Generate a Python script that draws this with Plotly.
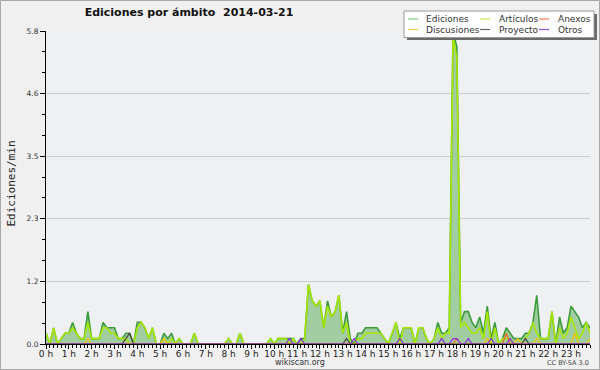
import pandas as pd
import plotly.graph_objects as go

# ---------------- data (edits per minute, 10-minute slots) ----------------
slot_times = pd.date_range("2014-03-21 00:00", periods=144, freq="10min")

ediciones = [
    0.2, 0.0, 0.3, 0.0, 0.1, 0.2,   # 0 h
    0.2, 0.4, 0.2, 0.1, 0.1, 0.6,   # 1 h
    0.1, 0.1, 0.1, 0.4, 0.3, 0.3,   # 2 h
    0.3, 0.1, 0.1, 0.2, 0.2, 0.0,   # 3 h
    0.4, 0.4, 0.3, 0.1, 0.3, 0.0,   # 4 h
    0.0, 0.2, 0.1, 0.2, 0.0, 0.1,   # 5 h
    0.0, 0.0, 0.0, 0.2, 0.0, 0.0,   # 6 h
    0.0, 0.0, 0.0, 0.0, 0.0, 0.0,   # 7 h
    0.1, 0.0, 0.0, 0.2, 0.0, 0.0,   # 8 h
    0.0, 0.0, 0.0, 0.0, 0.0, 0.1,   # 9 h
    0.0, 0.1, 0.1, 0.1, 0.1, 0.1,   # 10 h
    0.0, 0.1, 0.1, 1.1, 0.8, 0.7,   # 11 h
    0.8, 0.3, 0.8, 0.5, 0.6, 0.9,   # 12 h
    0.2, 0.6, 0.1, 0.0, 0.2, 0.2,   # 13 h
    0.3, 0.3, 0.3, 0.3, 0.2, 0.1,   # 14 h
    0.0, 0.2, 0.4, 0.1, 0.3, 0.3,   # 15 h
    0.3, 0.0, 0.3, 0.3, 0.1, 0.0,   # 16 h
    0.1, 0.4, 0.2, 0.2, 0.3, 5.8,   # 17 h
    5.5, 0.4, 0.6, 0.6, 0.4, 0.3,   # 18 h
    0.5, 0.2, 0.7, 0.1, 0.4, 0.0,   # 19 h
    0.1, 0.3, 0.2, 0.1, 0.1, 0.1,   # 20 h
    0.2, 0.2, 0.4, 0.9, 0.1, 0.1,   # 21 h
    0.1, 0.6, 0.0, 0.5, 0.2, 0.3,   # 22 h
    0.7, 0.6, 0.5, 0.3, 0.4, 0.3,   # 23 h
]

articulos = [
    0.2, 0.0, 0.3, 0.0, 0.1, 0.2,
    0.2, 0.3, 0.2, 0.1, 0.1, 0.4,
    0.1, 0.1, 0.1, 0.3, 0.3, 0.2,
    0.2, 0.1, 0.1, 0.1, 0.0, 0.0,
    0.3, 0.4, 0.3, 0.1, 0.3, 0.0,
    0.0, 0.1, 0.0, 0.1, 0.0, 0.1,
    0.0, 0.0, 0.0, 0.2, 0.0, 0.0,
    0.0, 0.0, 0.0, 0.0, 0.0, 0.0,
    0.1, 0.0, 0.0, 0.2, 0.0, 0.0,
    0.0, 0.0, 0.0, 0.0, 0.0, 0.1,
    0.0, 0.1, 0.1, 0.1, 0.0, 0.1,
    0.0, 0.0, 0.1, 1.1, 0.8, 0.7,
    0.8, 0.3, 0.7, 0.5, 0.6, 0.9,
    0.2, 0.4, 0.0, 0.0, 0.1, 0.1,
    0.2, 0.2, 0.2, 0.2, 0.2, 0.1,
    0.0, 0.2, 0.4, 0.0, 0.3, 0.3,
    0.3, 0.0, 0.3, 0.3, 0.1, 0.0,
    0.1, 0.3, 0.1, 0.2, 0.2, 5.7,
    5.3, 0.3, 0.4, 0.3, 0.2, 0.2,
    0.3, 0.1, 0.6, 0.0, 0.3, 0.0,
    0.1, 0.1, 0.1, 0.0, 0.0, 0.0,
    0.1, 0.2, 0.4, 0.2, 0.1, 0.1,
    0.1, 0.6, 0.0, 0.3, 0.1, 0.2,
    0.5, 0.3, 0.1, 0.2, 0.4, 0.2,
]

discusiones = [
    0, 0, 0, 0, 0, 0,
    0, 0, 0, 0, 0, 0.1,
    0, 0, 0, 0, 0, 0,
    0, 0, 0, 0, 0, 0,
    0, 0, 0, 0, 0, 0,
    0, 0.1, 0, 0, 0, 0,
    0, 0, 0, 0, 0, 0,
    0, 0, 0, 0, 0, 0,
    0, 0, 0, 0, 0, 0,
    0, 0, 0, 0, 0, 0,
    0, 0, 0, 0, 0, 0,
    0, 0, 0, 0, 0, 0,
    0, 0, 0, 0, 0, 0,
    0, 0, 0, 0, 0, 0,
    0, 0, 0, 0, 0, 0,
    0, 0, 0, 0, 0, 0,
    0, 0, 0, 0, 0, 0,
    0, 0, 0, 0, 0, 0,
    0, 0, 0, 0, 0, 0,
    0, 0, 0.1, 0, 0, 0,
    0, 0, 0, 0, 0.1, 0,
    0, 0, 0, 0.1, 0, 0,
    0, 0, 0, 0, 0, 0,
    0, 0.2, 0, 0, 0, 0.1,
]

anexos = [0] * 108 + [0.1] + [0] * 12 + [0.2] + [0] * 22

proyecto = [
    0, 0, 0, 0, 0, 0,
    0, 0, 0, 0, 0, 0,
    0, 0, 0, 0, 0, 0,
    0, 0, 0, 0.1, 0.2, 0,
    0, 0, 0, 0, 0, 0,
    0, 0, 0, 0, 0, 0,
    0, 0, 0, 0, 0, 0,
    0, 0, 0, 0, 0, 0,
    0, 0, 0, 0, 0, 0,
    0, 0, 0, 0, 0, 0,
    0, 0, 0, 0, 0, 0,
    0, 0, 0, 0, 0, 0,
    0, 0, 0, 0, 0, 0,
    0, 0.1, 0, 0, 0, 0,
    0, 0, 0, 0, 0, 0,
    0, 0, 0, 0, 0, 0,
    0, 0, 0, 0, 0, 0,
    0, 0, 0, 0, 0, 0,
    0, 0, 0, 0, 0, 0,
    0, 0, 0, 0, 0, 0,
    0, 0, 0, 0, 0, 0,
    0.1, 0, 0, 0, 0, 0,
    0, 0, 0, 0, 0, 0,
    0, 0, 0, 0, 0, 0,
]

otros = [
    0, 0, 0, 0, 0, 0,
    0, 0, 0, 0, 0, 0,
    0, 0, 0, 0, 0, 0,
    0, 0, 0, 0, 0, 0,
    0, 0, 0, 0, 0, 0,
    0, 0, 0, 0, 0, 0,
    0, 0, 0, 0, 0, 0,
    0, 0, 0, 0, 0, 0,
    0, 0, 0, 0, 0, 0,
    0, 0, 0, 0, 0, 0,
    0, 0, 0, 0, 0.1, 0,
    0, 0.1, 0, 0, 0, 0,
    0, 0, 0, 0, 0, 0,
    0, 0, 0, 0.1, 0, 0,
    0, 0, 0, 0, 0, 0,
    0, 0, 0, 0.1, 0, 0,
    0, 0, 0, 0, 0, 0,
    0, 0, 0.1, 0, 0, 0.1,
    0.1, 0, 0, 0.1, 0, 0,
    0, 0, 0, 0.1, 0, 0,
    0, 0, 0.1, 0, 0, 0,
    0, 0, 0, 0, 0, 0,
    0, 0, 0, 0, 0, 0,
    0, 0, 0, 0, 0, 0,
]

hour_labels = ["0 h", "1 h", "2 h", "3 h", "4 h", "5 h", "6 h", "7 h",
               "8 h", "9 h", "10 h", "11 h", "12 h", "13 h", "14 h", "15 h",
               "16 h", "17 h", "18 h", "19 h", "20 h", "21 h", "22 h", "23 h"]
y_tick_values = [0, 1.16, 2.32, 3.48, 4.64, 5.8]
y_tick_labels = ["0.0", "1.2", "2.3", "3.5", "4.6", "5.8"]

series_colors = {
    "Ediciones": "#3c9c3c",
    "Artículos": "#a8e800",
    "Anexos": "#f06a28",
    "Discusiones": "#f5c400",
    "Proyecto": "#444444",
    "Otros": "#8a2be2",
}
legend_colors = {
    "Ediciones": "#7fcf7f",
    "Artículos": "#c8ec50",
    "Anexos": "#f08050",
    "Discusiones": "#f5d050",
    "Proyecto": "#666666",
    "Otros": "#9a50ee",
}

# ---------------- figure ----------------
W, H = 600, 370
ML, MR, MT, MB = 46, 10, 31, 26
PW, PH = W - ML - MR, H - MT - MB
FONT = "DejaVu Sans"


def px_x(px):
    return (px - ML) / PW


def px_y(py):
    return (H - MB - py) / PH


fig = go.Figure()

fig.add_trace(go.Scatter(
    x=slot_times, y=ediciones, name="Ediciones", mode="lines",
    line=dict(color=series_colors["Ediciones"], width=1.6),
    fill="tozeroy", fillcolor="#a2cca2", showlegend=False,
))
fig.add_trace(go.Scatter(
    x=slot_times, y=articulos, name="Artículos", mode="lines",
    line=dict(color=series_colors["Artículos"], width=1.6), showlegend=False,
))
for name, vals in [("Discusiones", discusiones), ("Anexos", anexos),
                   ("Proyecto", proyecto), ("Otros", otros)]:
    fig.add_trace(go.Scatter(
        x=slot_times, y=vals, name=name, mode="lines",
        line=dict(color=series_colors[name], width=1.2), showlegend=False,
    ))

shapes = []
annotations = []

# outer border of the image
shapes.append(dict(type="rect", xref="paper", yref="paper",
                   x0=px_x(0.5), x1=px_x(W - 0.5), y0=px_y(H - 0.5), y1=px_y(0.5),
                   line=dict(color="#a8a8a8", width=1), fillcolor="rgba(0,0,0,0)",
                   layer="below"))

# legend box with shadow
shapes.append(dict(type="rect", xref="paper", yref="paper",
                   x0=px_x(407), x1=px_x(597), y0=px_y(40), y1=px_y(14),
                   line=dict(width=0), fillcolor="#6a6a6a", layer="above"))
shapes.append(dict(type="rect", xref="paper", yref="paper",
                   x0=px_x(404), x1=px_x(594), y0=px_y(37.5), y1=px_y(11),
                   line=dict(color="#9a9a9a", width=1), fillcolor="#ffffff", layer="above"))

legend_layout = [
    ("Ediciones", 408, 424, 19), ("Discusiones", 408, 424, 29.5),
    ("Artículos", 480, 497, 19), ("Proyecto", 480, 497, 29.5),
    ("Anexos", 539, 556, 19), ("Otros", 539, 556, 29.5),
]
for name, sx, tx, ty in legend_layout:
    shapes.append(dict(type="line", xref="paper", yref="paper",
                       x0=px_x(sx), x1=px_x(sx + 10), y0=px_y(ty), y1=px_y(ty),
                       line=dict(color=legend_colors[name], width=1.2), layer="above"))
    annotations.append(dict(text=name, xref="paper", yref="paper",
                            x=px_x(tx), y=px_y(ty), xanchor="left", yanchor="middle",
                            showarrow=False, font=dict(family=FONT, size=9, color="#333333")))

# y-axis title
annotations.append(dict(text="Ediciones/min", xref="paper", yref="paper",
                        x=px_x(10.5), y=px_y(184), xanchor="center", yanchor="middle",
                        textangle=-90, showarrow=False,
                        font=dict(family="DejaVu Sans Mono", size=11, color="#222222")))
# credits
annotations.append(dict(text="wikiscan.org", xref="paper", yref="paper",
                        x=px_x(300), y=px_y(362), xanchor="center", yanchor="middle",
                        showarrow=False, font=dict(family=FONT, size=8, color="#333333")))
annotations.append(dict(text="CC BY-SA 3.0", xref="paper", yref="paper",
                        x=px_x(591), y=px_y(363), xanchor="right", yanchor="middle",
                        showarrow=False, font=dict(family=FONT, size=6.5, color="#444444")))

fig.update_layout(
    width=W, height=H,
    margin=dict(l=ML, r=MR, t=MT, b=MB, pad=0),
    paper_bgcolor="#f0f0f0",
    plot_bgcolor="#eef0f2",
    title=dict(text="Ediciones por ámbito\u00a0 2014-03-21",
               x=189 / W, xanchor="center", xref="container",
               y=1 - 12 / H, yanchor="middle", yref="container",
               font=dict(family=FONT, size=11, color="#111111", weight="bold")),
    showlegend=False,
    shapes=shapes,
    annotations=annotations,
    xaxis=dict(
        range=[slot_times[0], slot_times[-1]],
        tickmode="array", tickvals=list(slot_times[::6]), ticktext=hour_labels,
        showgrid=False, zeroline=False,
        showline=True, linecolor="#000000", linewidth=1,
        ticks="outside", ticklen=4, tickcolor="#000000", tickwidth=1,
        ticklabelstandoff=-3,
        tickfont=dict(family=FONT, size=9, color="#222222"),
        minor=dict(tickmode="linear", tick0=slot_times[0], dtick=600000,
                   ticks="outside", ticklen=3, tickcolor="#000000", showgrid=False),
    ),
    yaxis=dict(
        range=[0, 5.8],
        tickmode="array", tickvals=y_tick_values, ticktext=y_tick_labels,
        showgrid=True, gridcolor="#cdcdcd", gridwidth=1, zeroline=False,
        showline=True, linecolor="#000000", linewidth=1,
        ticks="outside", ticklen=5, tickcolor="#000000", tickwidth=1,
        tickfont=dict(family=FONT, size=7.5, color="#333333"),
        minor=dict(tickmode="linear", tick0=0, dtick=1.16 / 3,
                   ticks="outside", ticklen=3, tickcolor="#000000", showgrid=False),
    ),
)

fig.write_html(
    "out.html",
    config={"displayModeBar": False},
    post_script="document.body.style.margin='0px';document.body.style.overflow='hidden';",
)
